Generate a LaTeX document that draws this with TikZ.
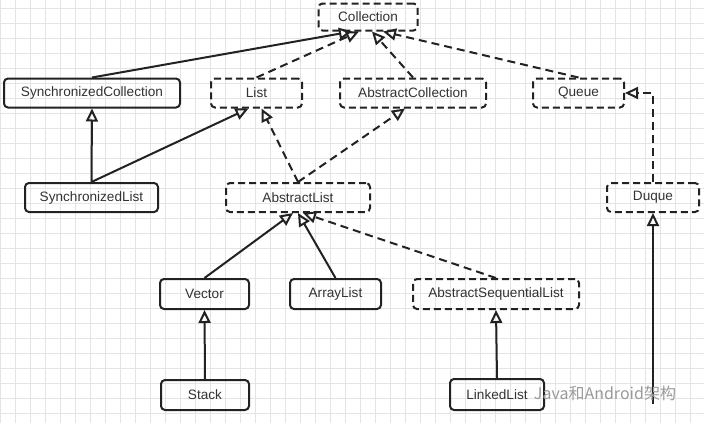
\documentclass[tikz,border=0pt]{standalone}
\usepackage{fontspec}
\setmainfont{Liberation Sans}
\newfontfamily\cjkfont{Noto Sans CJK SC}
\usetikzlibrary{arrows.meta,calc}
\definecolor{linec}{HTML}{222222}
\definecolor{textc}{HTML}{333333}
\definecolor{gridc}{HTML}{E4E4E4}
\definecolor{wmc}{HTML}{9A9A9A}
\tikzset{
  box/.style={draw=linec, line width=2pt, rounded corners=4pt, minimum height=29pt,
    inner sep=0pt, text=textc, font=\fontsize{13.6}{15}\selectfont},
  dbox/.style={box, dash pattern=on 7pt off 4pt},
  sline/.style={draw=linec, line width=2pt, -{Triangle[open, length=13pt, width=12pt]}},
  dline/.style={sline, dash pattern=on 8pt off 5pt},
}
\begin{document}
\begin{tikzpicture}[x=1pt,y=-1pt]
\useasboundingbox (0,0) rectangle (704,423);
\fill[white] (0,0) rectangle (704,423);
\foreach \gx in {0,15,...,704} \draw[gridc, line width=0.7pt] (\gx,0) -- (\gx,423);
\foreach \gy in {8,23,...,423} \draw[gridc, line width=0.7pt] (0,\gy) -- (704,\gy);

\node[dbox, minimum width=99pt, minimum height=27pt] (coll) at (368,17) {Collection};
\node[box, minimum width=176pt] (sc) at (92,93) {SynchronizedCollection};
\node[dbox, minimum width=91pt] (list) at (256.5,93) {List};
\node[dbox, minimum width=146pt] (ac) at (413,93) {AbstractCollection};
\node[dbox, minimum width=91pt] (queue) at (578.5,93) {Queue};
\node[box, minimum width=133pt] (sl) at (91.5,197.5) {SynchronizedList};
\node[dbox, minimum width=144pt] (al) at (298,197.5) {AbstractList};
\node[dbox, minimum width=92pt] (duque) at (653,197.5) {Duque};
\node[box, minimum width=89pt, minimum height=30pt] (vector) at (204.5,294) {Vector};
\node[box, minimum width=91pt, minimum height=30pt] (arraylist) at (335.5,294) {ArrayList};
\node[dbox, minimum width=166pt, minimum height=30pt] (asl) at (496,294) {AbstractSequentialList};
\node[box, minimum width=88pt, minimum height=30pt] (stack) at (205,395) {Stack};
\node[box, minimum width=94pt, minimum height=31pt] (linked) at (497,394.5) {LinkedList};
\coordinate (dqend) at (653,404);

% into Collection
\draw[sline] (sc.north) -- ($(coll.south)+(-16,0)$);
\draw[dline] (list.north) -- ($(coll.south)+(-9,0)$);
\draw[dline] (ac.north) -- ($(coll.south)+(4,0)$);
\draw[dline] (queue.north) -- ($(coll.south)+(15,0)$);
% into second row
\draw[sline] (sl.north) -- (sc.south);
\draw[sline] (sl.north) -- ($(list.south)+(-8,0)$);
\draw[dline] (al.north) -- ($(list.south)+(5,0)$);
\draw[dline] (al.north) -- ($(ac.south)+(-8,0)$);
\draw[dline] (duque.north) |- (queue.east);
% into AbstractList
\draw[sline] (vector.north) -- ($(al.south)+(-5,0)$);
\draw[sline] (arraylist.north) -- (al.south);
\draw[dline] (asl.north) -- ($(al.south)+(5,0)$);
% bottom row
\draw[sline] (stack.north) -- (vector.south);
\draw[sline] (linked.north) -- (asl.south);
\draw[sline] (dqend) -- (duque.south);

\node[text=wmc, font=\cjkfont\fontsize{16}{18}\selectfont, inner sep=0pt] (wm) at (605,393) {Java和Android架构};
\end{tikzpicture}
\end{document}
